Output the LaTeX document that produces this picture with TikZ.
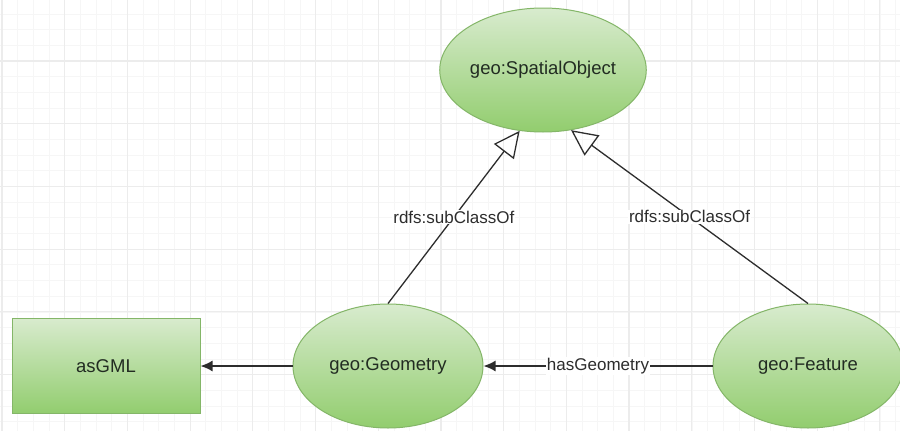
\documentclass[tikz,border=0pt]{standalone}
\usepackage{fontspec}
\setmainfont{Liberation Sans}
\usetikzlibrary{arrows.meta,shapes.geometric}
\definecolor{gtop}{RGB}{216,235,206}
\definecolor{gbot}{RGB}{146,205,110}
\definecolor{gline}{RGB}{132,182,104}
\definecolor{txt}{RGB}{34,44,34}
\definecolor{edge}{RGB}{45,45,45}
\definecolor{minorgrid}{RGB}{246,246,246}
\definecolor{majorgrid}{RGB}{236,236,236}
\tikzset{
  cls/.style={ellipse, draw=gline, line width=1pt, top color=gtop, bottom color=gbot,
    minimum width=190pt, minimum height=124pt, inner sep=0pt, text=txt,
    font=\fontsize{18.5}{22}\selectfont},
  litbox/.style={rectangle, draw=gline, line width=1pt, top color=gtop, bottom color=gbot,
    minimum width=188pt, minimum height=95pt, inner sep=0pt, text=txt,
    font=\fontsize{18.5}{22}\selectfont},
  subcls/.style={draw=edge, line width=1.3pt, -{Triangle[open, length=26pt, width=25pt, line width=1.3pt]}},
  prop/.style={draw=edge, line width=1.6pt, -{Latex[length=12pt, width=11pt]}},
  elabel/.style={fill=white, inner sep=1pt, text=edge, font=\fontsize{17}{20}\selectfont}
}
\begin{document}
\begin{tikzpicture}[x=1pt, y=-1pt]
\useasboundingbox (0,0) rectangle (900,431);
\fill[white] (0,0) rectangle (900,431);
% grid
\foreach \i in {-1,...,60} {
  \draw[minorgrid, line width=0.8pt] ({2+15.68*\i},0) -- ({2+15.68*\i},431);
}
\foreach \j in {-1,...,30} {
  \draw[minorgrid, line width=0.8pt] (0,{-1.7+15.68*\j}) -- (900,{-1.7+15.68*\j});
}
\foreach \i in {0,...,15} {
  \draw[majorgrid, line width=1.2pt] ({2+62.7*\i},0) -- ({2+62.7*\i},431);
}
\foreach \j in {0,...,7} {
  \draw[majorgrid, line width=1.2pt] (0,{-1.7+62.7*\j}) -- (900,{-1.7+62.7*\j});
}
% nodes
\node[cls] (spatial) at (543,70) {geo:SpatialObject};
\node[cls] (geom) at (388,366) {geo:Geometry};
\node[cls] (feat) at (808,366) {geo:Feature};
\node[litbox] (gml) at (106,366) {asGML};
% edges
\draw[subcls] (geom.north) -- node[elabel] {rdfs:subClassOf} (spatial.-111);
\draw[subcls] (feat.north) -- node[elabel] {rdfs:subClassOf} (spatial.-65);
\draw[prop] (feat.west) -- node[elabel] {hasGeometry} (geom.east);
\draw[prop] (geom.west) -- (gml.east);
\end{tikzpicture}
\end{document}
